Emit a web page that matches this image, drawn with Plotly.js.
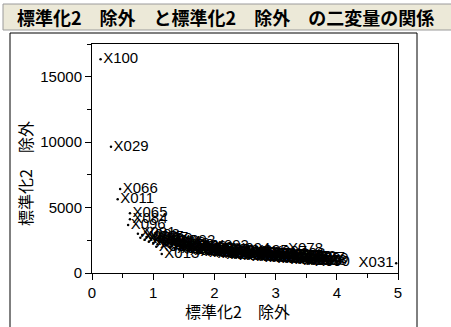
<!DOCTYPE html>
<html><head><meta charset="utf-8">
<script src="https://cdn.plot.ly/plotly-3.0.1.min.js"></script>
<style>html,body{margin:0;padding:0;background:#fff;}#chart{width:451px;height:327px;}</style>
</head><body><div id="chart"></div>
<script>
// Labels, x values (標準化2 除外) and y values (標準化2 除外)
const names = ["X100","X029","X066","X011","X065","X084","X096","X078","X031",
"X001","X002","X003","X004","X005","X006","X007","X008","X009","X010",
"X012","X013","X014","X015","X016","X017","X018","X019","X020","X021",
"X022","X023","X055","X024","X025","X026","X027","X028","X030","X032",
"X033","X034","X035","X036","X037","X038","X039","X040","X041","X042",
"X043","X044","X045","X046","X047","X048","X049","X050","X051","X052",
"X053","X054","X056","X057","X058","X059","X060","X061","X062","X063",
"X064","X067","X068","X069","X070","X071","X072","X073","X074","X075",
"X076","X077","X079","X080","X081","X082","X083","X085","X086","X087",
"X088","X089","X090","X091","X092","X093","X094","X095","X097","X098","X099"];
const xVals = [0.14,0.31,0.46,0.42,0.62,0.62,0.59,3.16,4.97,
0.75,0.79,0.82,0.86,0.89,0.93,0.96,1.00,1.03,1.07,
1.10,1.14,1.17,1.21,1.24,1.28,1.31,1.35,1.38,1.42,
1.45,1.49,1.67,1.52,1.56,1.59,1.63,1.70,1.73,1.77,
1.80,1.84,1.87,1.91,1.94,1.98,2.01,2.05,2.08,2.12,
2.15,2.19,2.22,2.26,2.29,2.33,2.36,2.40,2.43,2.47,
2.50,2.54,2.57,2.61,2.64,2.68,2.71,2.75,2.78,2.82,
2.85,2.89,2.92,2.96,2.99,3.03,3.06,3.10,3.13,3.17,
3.20,3.24,3.27,3.31,3.34,3.38,3.41,3.45,3.48,3.52,
3.55,3.58,3.60,1.05,1.40,1.95,2.30,2.60,2.90,3.20,
3.45];
const yVals = [16340,9640,6410,5630,4560,4100,3660,1830,750,
3000,2700,2900,2550,2750,2400,2650,2300,2550,2200,
2450,1450,2350,2100,2300,1950,2200,1850,2100,1800,
2050,1750,1830,2000,1700,1950,1650,1900,1600,1850,
1550,1800,1500,1750,1480,1720,1450,1680,1420,1650,
1380,1620,1350,1580,1320,1550,1300,1520,1270,1500,
1250,1470,1220,1440,1200,1420,1170,1400,1150,1370,
1120,1350,1100,1320,1080,1300,1050,1270,1020,1250,
1000,1220,970,1200,950,1170,920,1150,900,1120,
870,1050,850,2000,2450,2050,1800,1700,1550,1400,
880];
const xTicks = [0,1,2,3,4,5];
const yTicks = [0,5000,10000,15000];
const titleText = "標準化2　除外　と標準化2　除外　の二変量の関係";
const xTitle = "標準化2　除外";
const yTitle = "標準化2　除外";

const positions = xVals.map(v => v > 4.5 ? "middle left" : "middle right");

const trace = {
  type: "scatter", mode: "markers+text",
  x: xVals, y: yVals, text: names,
  textposition: positions,
  textfont: {family: "Liberation Sans, Arial, sans-serif", size: 15, color: "#000"},
  marker: {size: 2.5, color: "#000"},
  cliponaxis: true, hoverinfo: "none"
};

const axisCommon = {
  showgrid: false, zeroline: false, showline: true, linecolor: "#000", linewidth: 1,
  mirror: true, ticks: "outside", ticklen: 6, tickcolor: "#000",
  tickfont: {family: "Liberation Sans, Arial, sans-serif", size: 15, color: "#000"}
};

const PX = v => (v - 92) / 306;
const PY = v => (273 - v) / 229;

const layout = {
  width: 451, height: 327,
  margin: {l: 92, r: 53, t: 44, b: 54},
  paper_bgcolor: "#fff", plot_bgcolor: "#fff",
  showlegend: false,
  xaxis: Object.assign({}, axisCommon, {
    range: [0, 5], tickvals: xTicks, ticktext: xTicks.map(String),
    minor: {dtick: 0.5, ticklen: 4, ticks: "outside", tickcolor: "#000"}
  }),
  yaxis: Object.assign({}, axisCommon, {
    range: [0, 17500], tickvals: yTicks, ticktext: yTicks.map(String),
    minor: {dtick: 2500, ticklen: 4, ticks: "outside", tickcolor: "#000"}
  }),
  shapes: [
    {type: "rect", xref: "paper", yref: "paper",
     x0: PX(3), x1: PX(452), y0: PY(30), y1: PY(4),
     fillcolor: "#ECE9D8", line: {color: "#9A9A9A", width: 1}, layer: "below"},
    {type: "rect", xref: "paper", yref: "paper",
     x0: PX(10), x1: PX(417), y0: PY(340), y1: PY(33),
     fillcolor: "rgba(0,0,0,0)", line: {color: "#000", width: 1}, layer: "below"}
  ],
  annotations: [
    {text: "<b>" + titleText + "</b>", xref: "paper", yref: "paper",
     x: PX(15), y: PY(17), xanchor: "left", yanchor: "middle",
     showarrow: false,
     font: {family: "Noto Sans CJK JP, sans-serif", size: 18, color: "#000"}},
    {text: xTitle, xref: "paper", yref: "paper",
     x: PX(237), y: PY(311), xanchor: "center", yanchor: "middle",
     showarrow: false,
     font: {family: "Noto Sans CJK JP, sans-serif", size: 16, color: "#000"}},
    {text: yTitle, xref: "paper", yref: "paper", textangle: -90,
     x: PX(25), y: PY(174), xanchor: "center", yanchor: "middle",
     showarrow: false,
     font: {family: "Noto Sans CJK JP, sans-serif", size: 16, color: "#000"}}
  ]
};

Plotly.newPlot("chart", [trace], layout, {staticPlot: true, displayModeBar: false});
</script></body></html>
